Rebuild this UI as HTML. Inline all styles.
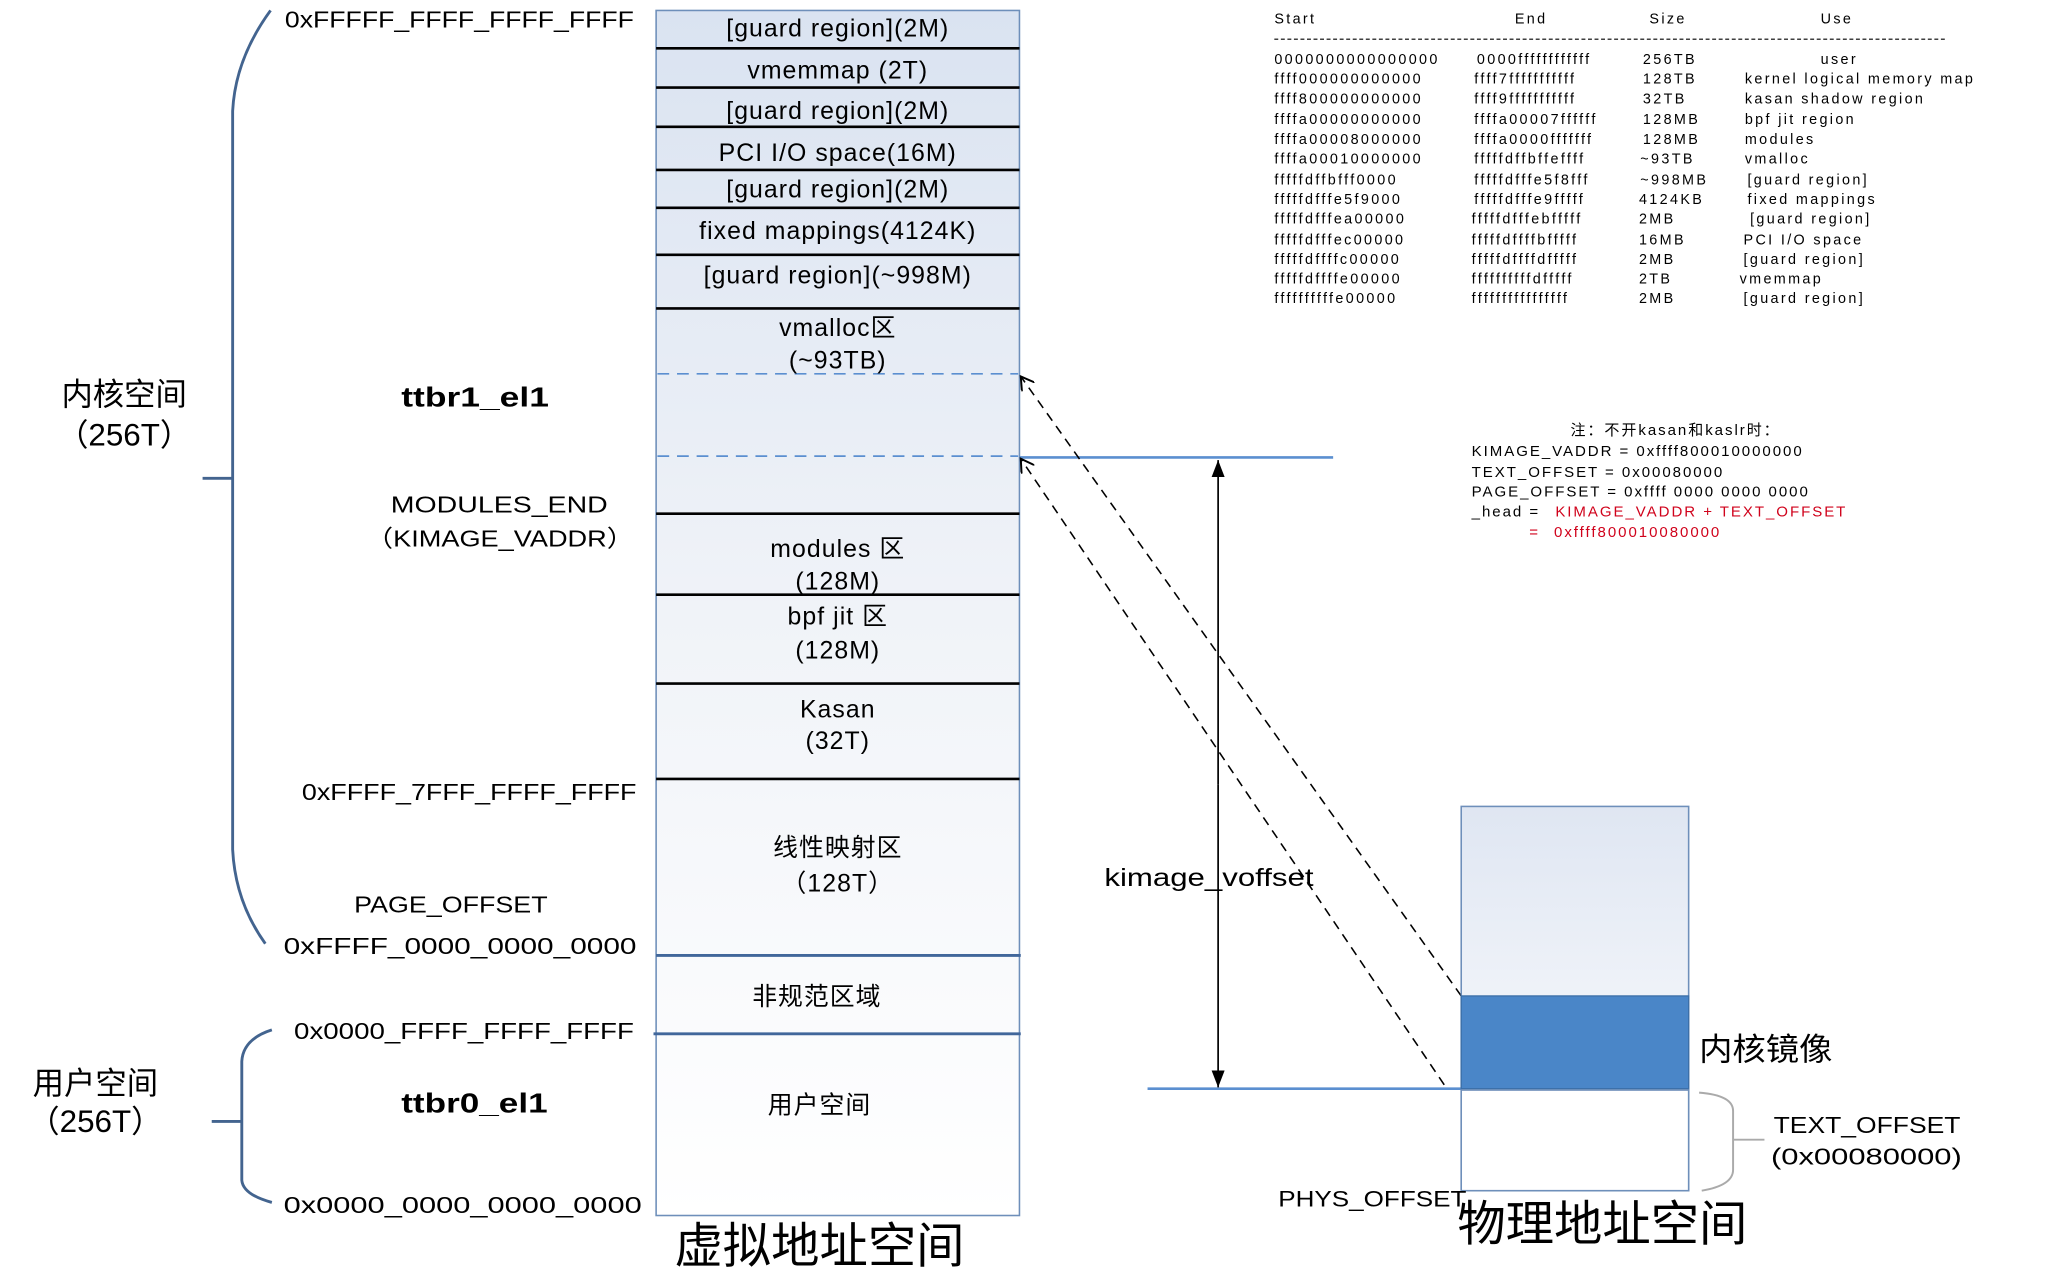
<!DOCTYPE html>
<html><head><meta charset="utf-8"><style>
html,body{margin:0;padding:0;background:#fff;overflow:hidden;}
svg{display:block;}
text{font-family:"Liberation Sans","Noto Sans CJK SC",sans-serif;fill:#000;}
.tb text{letter-spacing:1.8px;}
.nt text{letter-spacing:1.5px;}
</style></head><body>
<svg width="2048" height="1278" viewBox="0 0 2048 1278" xmlns="http://www.w3.org/2000/svg">
<defs>
<linearGradient id="g1" x1="0" y1="0" x2="0" y2="1">
<stop offset="0" stop-color="#dae3f1"/><stop offset="0.5" stop-color="#f0f3f8"/><stop offset="1" stop-color="#ffffff"/>
</linearGradient>
<linearGradient id="g2" x1="0" y1="0" x2="0" y2="1">
<stop offset="0" stop-color="#dfe6f2"/><stop offset="1" stop-color="#ffffff"/>
</linearGradient>
<marker id="ah" markerWidth="12" markerHeight="12" refX="10" refY="6" orient="auto" markerUnits="userSpaceOnUse">
<path d="M0,0 L10,6 L0,12" fill="none" stroke="#000" stroke-width="1.5"/>
</marker>
<marker id="fa" markerWidth="14" markerHeight="14" refX="13" refY="5" orient="auto" markerUnits="userSpaceOnUse">
<path d="M0,0 L13,5 L0,10 Z" fill="#000"/>
</marker>
</defs>
<g transform="scale(1.307)">
<rect x="502" y="8" width="278" height="922" fill="url(#g1)" stroke="#6e8fba" stroke-width="1.2"/>
<g stroke="#000" stroke-width="2">
<line x1="502" y1="37" x2="780" y2="37"/>
<line x1="502" y1="67" x2="780" y2="67"/>
<line x1="502" y1="97" x2="780" y2="97"/>
<line x1="502" y1="130" x2="780" y2="130"/>
<line x1="502" y1="159" x2="780" y2="159"/>
<line x1="502" y1="195" x2="780" y2="195"/>
<line x1="502" y1="236" x2="780" y2="236"/>
<line x1="502" y1="393" x2="780" y2="393"/>
<line x1="502" y1="455" x2="780" y2="455"/>
<line x1="502" y1="523" x2="780" y2="523"/>
<line x1="502" y1="596" x2="780" y2="596"/>
</g>
<g stroke="#41679b" stroke-width="2.2">
<line x1="502" y1="731" x2="781" y2="731"/>
<line x1="500" y1="791" x2="781" y2="791"/>
</g>
<g stroke="#5b8fd0" stroke-width="1.3" stroke-dasharray="9,6">
<line x1="503" y1="286" x2="779" y2="286"/>
<line x1="503" y1="349" x2="779" y2="349"/>
</g>
<g font-size="19" text-anchor="middle" style="letter-spacing:0.8px">
<text x="641" y="28">[guard region](2M)</text>
<text x="641" y="60">vmemmap (2T)</text>
<text x="641" y="91">[guard region](2M)</text>
<text x="641" y="123">PCI I/O space(16M)</text>
<text x="641" y="151">[guard region](2M)</text>
<text x="641" y="183">fixed mappings(4124K)</text>
<text x="641" y="217">[guard region](~998M)</text>
<text x="641" y="257">vmalloc区</text>
<text x="641" y="282">(~93TB)</text>
<text x="641" y="426">modules 区</text>
<text x="641" y="451">(128M)</text>
<text x="641" y="478">bpf jit 区</text>
<text x="641" y="504">(128M)</text>
<text x="641" y="549">Kasan</text>
<text x="641" y="573">(32T)</text>
<text x="641" y="655">线性映射区</text>
<text x="641" y="682">（128T）</text>
<text x="625" y="769">非规范区域</text>
<text x="627" y="852">用户空间</text>
</g>
<text x="627" y="966" font-size="37" text-anchor="middle">虚拟地址空间</text>

<g font-size="18">
<text x="218" y="21" textLength="267" lengthAdjust="spacingAndGlyphs">0xFFFFF_FFFF_FFFF_FFFF</text>
<text x="231" y="612" textLength="256" lengthAdjust="spacingAndGlyphs">0xFFFF_7FFF_FFFF_FFFF</text>
<text x="271" y="698" textLength="148" lengthAdjust="spacingAndGlyphs">PAGE_OFFSET</text>
<text x="217" y="730" textLength="270" lengthAdjust="spacingAndGlyphs">0xFFFF_0000_0000_0000</text>
<text x="225" y="795" textLength="260" lengthAdjust="spacingAndGlyphs">0x0000_FFFF_FFFF_FFFF</text>
<text x="217" y="928" textLength="274" lengthAdjust="spacingAndGlyphs">0x0000_0000_0000_0000</text>
<text x="299" y="392" textLength="166" lengthAdjust="spacingAndGlyphs">MODULES_END</text>
<text x="280" y="418" textLength="205" lengthAdjust="spacingAndGlyphs">（KIMAGE_VADDR）</text>
</g>
<g font-size="21" font-weight="bold">
<text x="307" y="311" textLength="113" lengthAdjust="spacingAndGlyphs">ttbr1_el1</text>
<text x="307" y="851" textLength="112" lengthAdjust="spacingAndGlyphs">ttbr0_el1</text>
</g>
<g font-size="24" text-anchor="middle">
<text x="95" y="310">内核空间</text>
<text x="95" y="341">（256T）</text>
<text x="73" y="837">用户空间</text>
<text x="73" y="866">（256T）</text>
</g>
<g fill="none" stroke="#43648f" stroke-width="2.2">
<path d="M207,8 Q180,45 178,85 L178,650 Q180,690 203,722"/>
<line x1="155" y1="366" x2="178" y2="366"/>
<path d="M208,788 Q186,795 185,812 L185,903 Q186,914 208,920"/>
<line x1="162" y1="858" x2="185" y2="858"/>
</g>

<line x1="780" y1="350" x2="1020" y2="350" stroke="#5b8fd0" stroke-width="2"/>
<line x1="878" y1="833" x2="1118" y2="833" stroke="#5b8fd0" stroke-width="2"/>
<line x1="932" y1="600" x2="932" y2="352" stroke="#000" stroke-width="1.3" marker-end="url(#fa)"/>
<line x1="932" y1="600" x2="932" y2="832" stroke="#000" stroke-width="1.3" marker-end="url(#fa)"/>
<g stroke="#000" stroke-width="1.2" stroke-dasharray="7,5" fill="none">
<line x1="1118" y1="762" x2="781" y2="288" marker-end="url(#ah)"/>
<line x1="1105" y1="830" x2="781" y2="351" marker-end="url(#ah)"/>
</g>
<text x="845" y="678" font-size="19" textLength="160" lengthAdjust="spacingAndGlyphs">kimage_voffset</text>

<rect x="1118" y="617" width="174" height="294" fill="url(#g2)" stroke="#6e8fba" stroke-width="1.2"/>
<rect x="1118" y="762" width="174" height="71" fill="#4a86c8" stroke="#3c6fa8" stroke-width="1"/>
<rect x="1118" y="834" width="174" height="77" fill="#fff" stroke="#6e8fba" stroke-width="1.2"/>
<text x="1300" y="811" font-size="24" textLength="102" lengthAdjust="spacingAndGlyphs">内核镜像</text>
<path d="M1300,836 Q1326,838 1326,850 L1326,895 Q1326,907 1302,911" fill="none" stroke="#aaa" stroke-width="1.5"/>
<line x1="1326" y1="872" x2="1350" y2="872" stroke="#aaa" stroke-width="1.5"/>
<text x="1357" y="867" font-size="18" textLength="143" lengthAdjust="spacingAndGlyphs">TEXT_OFFSET</text>
<text x="1355" y="891" font-size="18" textLength="146" lengthAdjust="spacingAndGlyphs">(0x00080000)</text>
<text x="978" y="923" font-size="17" textLength="144" lengthAdjust="spacingAndGlyphs">PHYS_OFFSET</text>
<text x="1226" y="949" font-size="37" text-anchor="middle">物理地址空间</text>

<g font-size="11" class="tb">
<text x="975" y="18">Start</text><text x="1159" y="18">End</text><text x="1262" y="18">Size</text><text x="1393" y="18">Use</text>
<line x1="975" y1="30" x2="1490" y2="30" stroke="#000" stroke-width="0.8" stroke-dasharray="3,2"/>
<text x="975" y="49">0000000000000000</text><text x="1130" y="49">0000ffffffffffff</text><text x="1257" y="49">256TB</text><text x="1393" y="49">user</text>
<text x="975" y="64">ffff000000000000</text><text x="1128" y="64">ffff7fffffffffff</text><text x="1257" y="64">128TB</text><text x="1335" y="64">kernel logical memory map</text>
<text x="975" y="79">ffff800000000000</text><text x="1128" y="79">ffff9fffffffffff</text><text x="1257" y="79">32TB</text><text x="1335" y="79">kasan shadow region</text>
<text x="975" y="95">ffffa00000000000</text><text x="1128" y="95">ffffa00007ffffff</text><text x="1257" y="95">128MB</text><text x="1335" y="95">bpf jit region</text>
<text x="975" y="110">ffffa00008000000</text><text x="1128" y="110">ffffa0000fffffff</text><text x="1257" y="110">128MB</text><text x="1335" y="110">modules</text>
<text x="975" y="125">ffffa00010000000</text><text x="1128" y="125">fffffdffbffeffff</text><text x="1255" y="125">~93TB</text><text x="1335" y="125">vmalloc</text>
<text x="975" y="141">fffffdffbfff0000</text><text x="1128" y="141">fffffdfffe5f8fff</text><text x="1255" y="141">~998MB</text><text x="1337" y="141">[guard region]</text>
<text x="975" y="156">fffffdfffe5f9000</text><text x="1128" y="156">fffffdfffe9fffff</text><text x="1254" y="156">4124KB</text><text x="1337" y="156">fixed mappings</text>
<text x="975" y="171">fffffdfffea00000</text><text x="1126" y="171">fffffdfffebfffff</text><text x="1254" y="171">2MB</text><text x="1339" y="171">[guard region]</text>
<text x="975" y="187">fffffdfffec00000</text><text x="1126" y="187">fffffdffffbfffff</text><text x="1254" y="187">16MB</text><text x="1334" y="187">PCI I/O space</text>
<text x="975" y="202">fffffdffffc00000</text><text x="1126" y="202">fffffdffffdfffff</text><text x="1254" y="202">2MB</text><text x="1334" y="202">[guard region]</text>
<text x="975" y="217">fffffdffffe00000</text><text x="1126" y="217">ffffffffffdfffff</text><text x="1254" y="217">2TB</text><text x="1331" y="217">vmemmap</text>
<text x="975" y="232">ffffffffffe00000</text><text x="1126" y="232">ffffffffffffffff</text><text x="1254" y="232">2MB</text><text x="1334" y="232">[guard region]</text>
</g>
<g font-size="11.5" class="nt">
<text x="1282" y="333" text-anchor="middle">注：不开kasan和kaslr时：</text>
<text x="1126" y="349">KIMAGE_VADDR = 0xffff800010000000</text>
<text x="1126" y="365">TEXT_OFFSET = 0x00080000</text>
<text x="1126" y="380">PAGE_OFFSET = 0xffff 0000 0000 0000</text>
<text x="1126" y="395">_head =</text>
<text x="1190" y="395" style="fill:#d0021b">KIMAGE_VADDR + TEXT_OFFSET</text>
<text x="1170" y="411" style="fill:#d0021b">=</text>
<text x="1189" y="411" style="fill:#d0021b">0xffff800010080000</text>
</g>
</g>
</svg>
</body></html>
